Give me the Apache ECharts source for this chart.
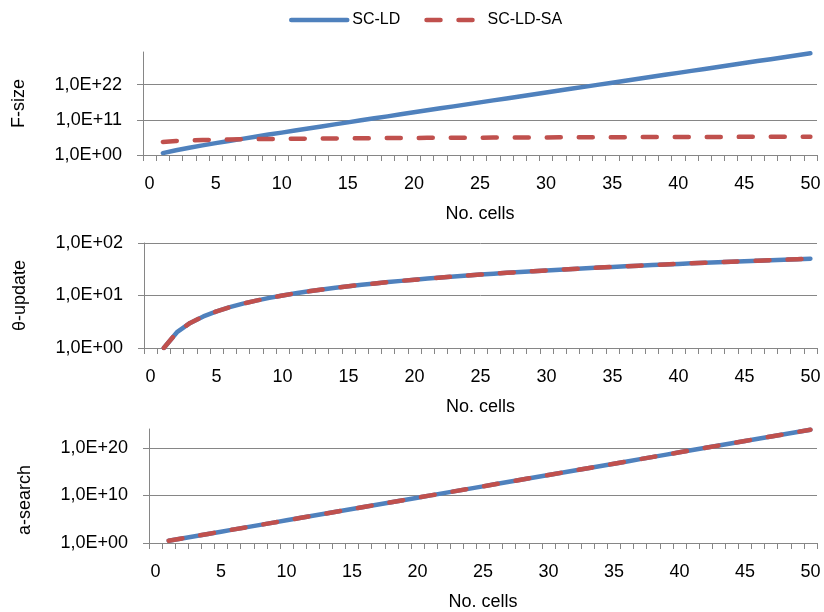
<!DOCTYPE html>
<html>
<head>
<meta charset="utf-8">
<script src="https://cdn.jsdelivr.net/npm/echarts@6/dist/echarts.min.js"></script>
<style>
html,body{margin:0;padding:0;background:#fff;}
#chart{width:824px;height:612px;}
</style>
</head>
<body>
<div id="chart"></div>
<script>
const cells = ['0','1','2','3','4','5','6','7','8','9','10','11','12','13','14','15','16','17','18','19','20','21','22','23','24','25','26','27','28','29','30','31','32','33','34','35','36','37','38','39','40','41','42','43','44','45','46','47','48','49','50'];
const seriesNames = ['SC-LD', 'SC-LD-SA'];
const panelNames = ['F-size', 'θ-update', 'a-search'];
const xTitle = 'No. cells';

const fsizeSCLD = [null, 4, 32, 192, 1.0e3, 5.1e3, 2.5e4, 1.1e5, 5.2e5, 2.4e6, 1.0e7,
  4.6e7, 2.0e8, 8.7e8, 3.8e9, 1.6e10, 6.9e10, 2.9e11, 1.2e12, 5.2e12, 2.2e13,
  9.2e13, 3.9e14, 1.6e15, 6.8e15, 2.8e16, 1.2e17, 4.9e17, 2.0e18, 8.4e18, 3.5e19,
  1.4e20, 5.9e20, 2.4e21, 1.0e22, 4.1e22, 1.7e23, 7.0e23, 2.9e24, 1.2e25, 4.8e25,
  2.0e26, 8.1e26, 3.3e27, 1.4e28, 5.6e28, 2.3e29, 9.3e29, 3.8e30, 1.6e31, 6.3e31];
const fsizeSCLDSA = [null, 12600, 24300, 35800, 47000, 58100, 69000, 79800, 90600, 101000, 112000,
  123000, 134000, 144000, 155000, 165000, 176000, 186000, 196000, 207000, 217000,
  227000, 237000, 248000, 258000, 268000, 278000, 289000, 299000, 309000, 319000,
  329000, 339000, 349000, 359000, 369000, 379000, 389000, 399000, 409000, 419000,
  429000, 439000, 449000, 459000, 469000, 479000, 489000, 498000, 508000, 518000];
const thetaSCLD = [null, 1, 2, 3, 4, 5, 6, 7, 8, 9, 10,
  11, 12, 13, 14, 15, 16, 17, 18, 19, 20,
  21, 22, 23, 24, 25, 26, 27, 28, 29, 30,
  31, 32, 33, 34, 35, 36, 37, 38, 39, 40,
  41, 42, 43, 44, 45, 46, 47, 48, 49, 50];
const thetaSCLDSA = [null, 1, 2, 3, 4, 5, 6, 7, 8, 9, 10,
  11, 12, 13, 14, 15, 16, 17, 18, 19, 20,
  21, 22, 23, 24, 25, 26, 27, 28, 29, 30,
  31, 32, 33, 34, 35, 36, 37, 38, 39, 40,
  41, 42, 43, 44, 45, 46, 47, 48, 49, 50];
const asearchSCLD = [null, 3, 9, 27, 81, 243, 729, 2187, 6561, 19683, 59049,
  1.77e5, 5.31e5, 1.59e6, 4.78e6, 1.43e7, 4.30e7, 1.29e8, 3.87e8, 1.16e9, 3.49e9,
  1.05e10, 3.14e10, 9.41e10, 2.82e11, 8.47e11, 2.54e12, 7.63e12, 2.29e13, 6.86e13, 2.06e14,
  6.18e14, 1.85e15, 5.56e15, 1.67e16, 5.00e16, 1.50e17, 4.50e17, 1.35e18, 4.05e18, 1.22e19,
  3.65e19, 1.09e20, 3.28e20, 9.85e20, 2.95e21, 8.86e21, 2.66e22, 7.98e22, 2.39e23, 7.18e23];
const asearchSCLDSA = [null, 3, 9, 27, 81, 243, 729, 2187, 6561, 19683, 59049,
  1.77e5, 5.31e5, 1.59e6, 4.78e6, 1.43e7, 4.30e7, 1.29e8, 3.87e8, 1.16e9, 3.49e9,
  1.05e10, 3.14e10, 9.41e10, 2.82e11, 8.47e11, 2.54e12, 7.63e12, 2.29e13, 6.86e13, 2.06e14,
  6.18e14, 1.85e15, 5.56e15, 1.67e16, 5.00e16, 1.50e17, 4.50e17, 1.35e18, 4.05e18, 1.22e19,
  3.65e19, 1.09e20, 3.28e20, 9.85e20, 2.95e21, 8.86e21, 2.66e22, 7.98e22, 2.39e23, 7.18e23];

const FONT = '"Liberation Sans", Arial, sans-serif';
const GRAY = '#868686';
const BLUE = '#4F81BD';
const RED = '#C0504D';

function expLabel(v) {
  const e = Math.round(Math.log10(v));
  return '1,0E+' + (e < 10 ? '0' : '') + e;
}

const grids = [
  {left: 143, right: 7, top: 52, height: 103},
  {left: 144, right: 7, top: 243, height: 105},
  {left: 149, right: 7, top: 429, height: 115}
];
const yCfg = [
  {logBase: 1e11, min: 1, max: 1.6e32, nameShift: 0},
  {logBase: 10, min: 1, max: 100, nameShift: 0},
  {logBase: 1e10, min: 1, max: 1e24, nameShift: 28}
];
const panelData = [
  [fsizeSCLD, fsizeSCLDSA],
  [thetaSCLD, thetaSCLDSA],
  [asearchSCLD, asearchSCLDSA]
];

const xAxes = grids.map((g, i) => ({
  type: 'category', gridIndex: i, data: cells, boundaryGap: true,
  name: xTitle, nameLocation: 'middle', nameGap: 50,
  nameTextStyle: {fontFamily: FONT, fontSize: 18, color: '#000'},
  axisLine: {show: true, lineStyle: {color: GRAY, width: 1}},
  axisTick: {show: true, interval: 0, length: 6, inside: false, lineStyle: {color: GRAY}},
  axisLabel: {interval: 4, margin: 20, fontFamily: FONT, fontSize: 18, color: '#000'},
  splitLine: {show: false}
}));

const yAxes = yCfg.map((c, i) => ({
  type: 'log', gridIndex: i, logBase: c.logBase, min: c.min, max: c.max,
  name: panelNames[i], nameLocation: 'middle', nameGap: 115,
  nameTextStyle: {fontFamily: FONT, fontSize: 18, color: '#000', padding: [0, c.nameShift, 0, 0]},
  axisLine: {show: true, lineStyle: {color: GRAY, width: 1}},
  axisTick: {show: true, length: 6, lineStyle: {color: GRAY}},
  axisLabel: {margin: 21, fontFamily: FONT, fontSize: 18, color: '#000', showMaxLabel: i === 1, formatter: expLabel},
  splitLine: {show: true, showMaxLine: i === 1, lineStyle: {color: GRAY, width: 1}},
  minorTick: {show: false}
}));

const series = [];
panelData.forEach((pair, i) => {
  series.push({
    name: seriesNames[0], type: 'line', xAxisIndex: i, yAxisIndex: i,
    data: pair[0], symbol: 'none', smooth: false,
    lineStyle: {color: BLUE, width: 4.5, cap: 'round', join: 'round'},
    itemStyle: {color: BLUE}, z: 2
  });
  series.push({
    name: seriesNames[1], type: 'line', xAxisIndex: i, yAxisIndex: i,
    data: pair[1], symbol: 'none', smooth: false,
    lineStyle: {color: RED, width: 4.5, type: [14, 18], cap: 'round', join: 'round'},
    itemStyle: {color: RED}, z: 3
  });
});

const chart = echarts.init(document.getElementById('chart'), null, {renderer: 'canvas'});
chart.setOption({
  backgroundColor: '#fff',
  animation: false,
  legend: {
    data: seriesNames, left: 284, top: 7, itemWidth: 56, itemHeight: 18, itemGap: 24,
    itemStyle: {opacity: 0},
    lineStyle: {width: 4.5, cap: 'round'},
    textStyle: {fontFamily: FONT, fontSize: 16, color: '#000'}
  },
  grid: grids,
  xAxis: xAxes,
  yAxis: yAxes,
  series: series
});
</script>
</body>
</html>
